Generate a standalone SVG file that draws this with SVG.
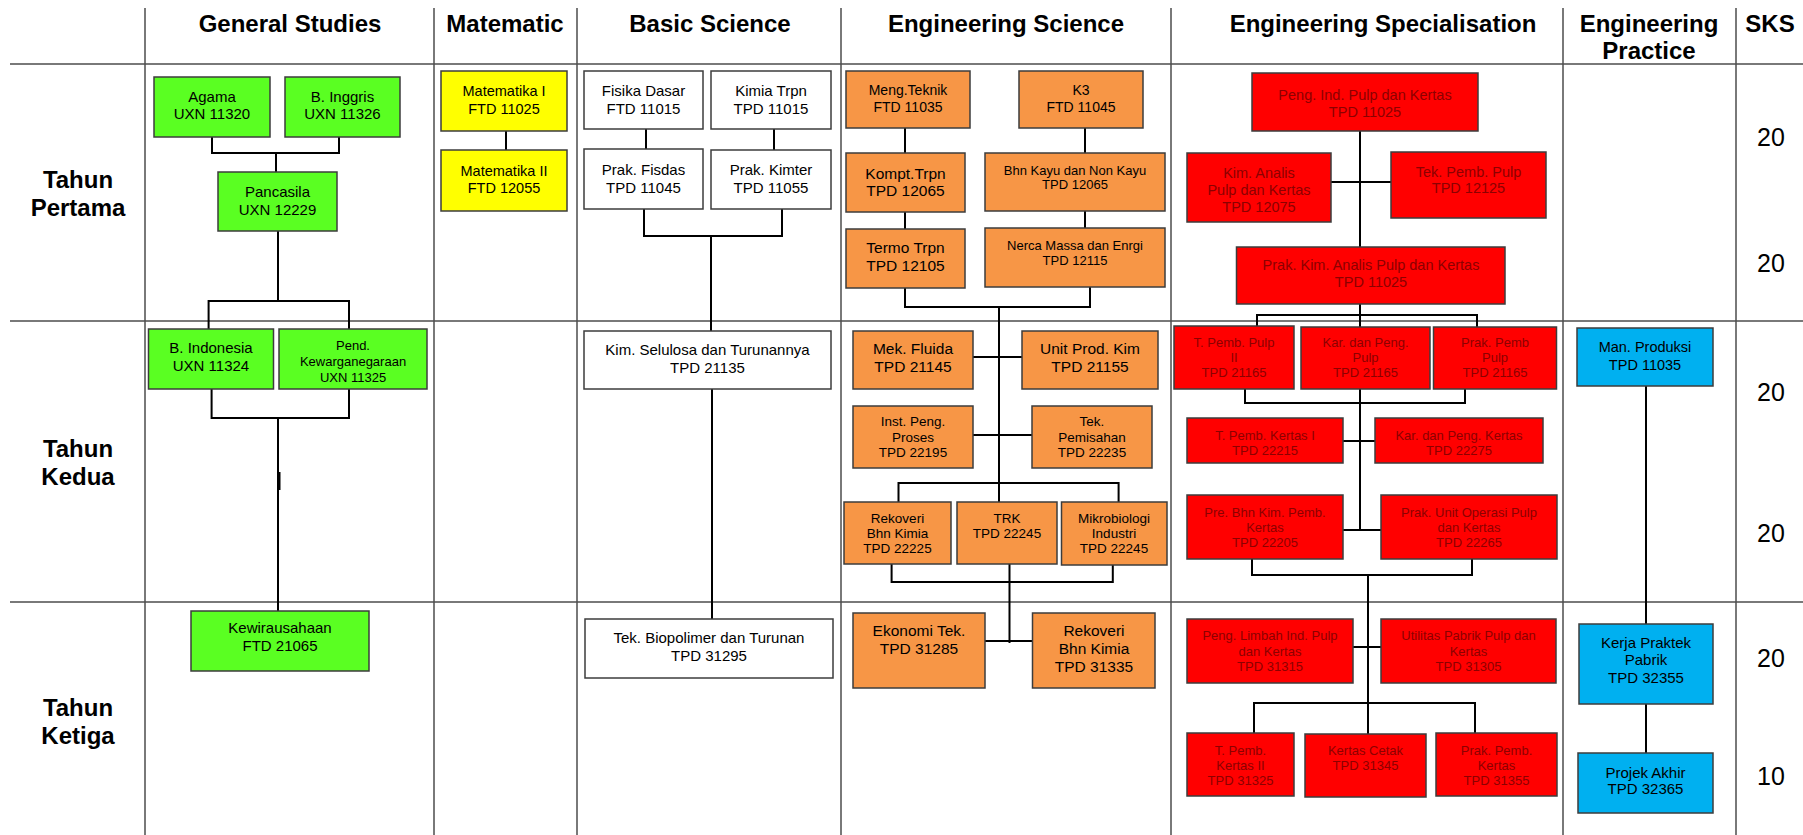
<svg xmlns="http://www.w3.org/2000/svg" width="1803" height="835" viewBox="0 0 1803 835">
<style>
.bg{fill:#fff}
.grid{stroke:#4d4d4d;stroke-width:1.5;fill:none}
.hdr{font-family:"Liberation Sans",Arial,sans-serif;font-weight:bold;font-size:24px;text-anchor:middle;fill:#000}
.sks{font-family:"Liberation Sans",Arial,sans-serif;font-size:25px;text-anchor:middle;fill:#000}
.box{stroke:#3c3c3c;stroke-width:1.5}
.g{fill:#5aff22}.y{fill:#ffff00}.w{fill:#ffffff}.o{fill:#f79646}.r{fill:#ff0000}.b{fill:#00b0f0}
.t{font-family:"Liberation Sans",Arial,sans-serif;text-anchor:middle;fill:#000}
.rt{fill:#8c0000}
.conn{stroke:#000;stroke-width:2;fill:none}
</style>
<rect class="bg" x="0" y="0" width="1803" height="835"/>
<g id="grid">
<path class="grid" d="M10,64H1803M10,321H1803M10,602H1803"/>
<path class="grid" d="M145,8V835M434,8V835M577,8V835M841,8V835M1171,8V835M1563,8V835M1736,8V835"/>
</g>
<g id="headers">
<text class="hdr" x="290" y="32">General Studies</text>
<text class="hdr" x="505" y="32">Matematic</text>
<text class="hdr" x="710" y="32">Basic Science</text>
<text class="hdr" x="1006" y="32">Engineering Science</text>
<text class="hdr" x="1383" y="32">Engineering Specialisation</text>
<text class="hdr" x="1649" y="32">Engineering</text>
<text class="hdr" x="1649" y="59">Practice</text>
<text class="hdr" x="1770" y="32">SKS</text>
<text class="hdr" x="78" y="188">Tahun</text>
<text class="hdr" x="78" y="216">Pertama</text>
<text class="hdr" x="78" y="457">Tahun</text>
<text class="hdr" x="78" y="485">Kedua</text>
<text class="hdr" x="78" y="716">Tahun</text>
<text class="hdr" x="78" y="744">Ketiga</text>
</g>
<g id="sks">
<text class="sks" x="1771" y="146">20</text>
<text class="sks" x="1771" y="272">20</text>
<text class="sks" x="1771" y="401">20</text>
<text class="sks" x="1771" y="542">20</text>
<text class="sks" x="1771" y="667">20</text>
<text class="sks" x="1771" y="785">10</text>
</g>
<g id="connectors">
<path class="conn" d="M212,137V153H339V137M276,153V172"/>
<path class="conn" d="M278,231V301M208.6,329V301H349V329"/>
<path class="conn" d="M211.6,389V418H349V389M278,418V611"/>
<path class="conn" d="M279,472V490" style="stroke-width:3"/>
<path class="conn" d="M506,131V150"/>
<path class="conn" d="M646,129V149M774,129V150"/>
<path class="conn" d="M644,209V236H782V209M711,236V331"/>
<path class="conn" d="M712,389V619"/>
<path class="conn" d="M905,128V153M1085,128V153M905,212V229M1085,211V228"/>
<path class="conn" d="M905,288V307H1090V287M999,307V502"/>
<path class="conn" d="M973,357H1022M973,435H1032"/>
<path class="conn" d="M898.5,502V483H1118.6V502"/>
<path class="conn" d="M891.6,564V582H1112.8V565M1009.5,564V643M984.6,641H1032.5"/>
<path class="conn" d="M1360,131V247M1331,182H1391"/>
<path class="conn" d="M1360,304V327M1257,326V315H1477V327"/>
<path class="conn" d="M1245,389V403H1465V389M1360,389V530"/>
<path class="conn" d="M1343,441H1375M1343,530H1381"/>
<path class="conn" d="M1252,559V575H1472V559M1368,575V734M1353,647H1381"/>
<path class="conn" d="M1254,733V703H1475V733"/>
<path class="conn" d="M1646,386V624M1646,704V753"/>
</g>
<g id="agama"><rect class="box g" x="154" y="77" width="116" height="60"/><text class="t" font-size="15"><tspan x="212" y="102">Agama</tspan><tspan x="212" y="119">UXN 11320</tspan></text></g>
<g id="binggris"><rect class="box g" x="285" y="77" width="115" height="60"/><text class="t" font-size="15"><tspan x="342.5" y="102">B. Inggris</tspan><tspan x="342.5" y="119">UXN 11326</tspan></text></g>
<g id="pancasila"><rect class="box g" x="218" y="172" width="119" height="59"/><text class="t" font-size="15"><tspan x="277.5" y="197">Pancasila</tspan><tspan x="277.5" y="215">UXN 12229</tspan></text></g>
<g id="bindonesia"><rect class="box g" x="148.5" y="329" width="125" height="60"/><text class="t" font-size="15"><tspan x="211" y="353">B. Indonesia</tspan><tspan x="211" y="371">UXN 11324</tspan></text></g>
<g id="pend"><rect class="box g" x="279" y="329" width="148" height="60"/><text class="t" font-size="13"><tspan x="353" y="350">Pend.</tspan><tspan x="353" y="366">Kewarganegaraan</tspan><tspan x="353" y="382">UXN 11325</tspan></text></g>
<g id="kewirausahaan"><rect class="box g" x="191" y="611" width="178" height="60"/><text class="t" font-size="15"><tspan x="280" y="633">Kewirausahaan</tspan><tspan x="280" y="651">FTD 21065</tspan></text></g>
<g id="matematika1"><rect class="box y" x="441" y="71" width="126" height="60"/><text class="t" font-size="14.5"><tspan x="504" y="96">Matematika I</tspan><tspan x="504" y="114">FTD 11025</tspan></text></g>
<g id="matematika2"><rect class="box y" x="441" y="150" width="126" height="61"/><text class="t" font-size="14.5"><tspan x="504" y="176">Matematika II</tspan><tspan x="504" y="193">FTD 12055</tspan></text></g>
<g id="fisikadasar"><rect class="box w" x="584" y="71" width="119" height="58"/><text class="t" font-size="15"><tspan x="643.5" y="96">Fisika Dasar</tspan><tspan x="643.5" y="114">FTD 11015</tspan></text></g>
<g id="kimiatrpn"><rect class="box w" x="711" y="71" width="120" height="58"/><text class="t" font-size="15"><tspan x="771" y="96">Kimia Trpn</tspan><tspan x="771" y="114">TPD 11015</tspan></text></g>
<g id="prakfisdas"><rect class="box w" x="584" y="149" width="119" height="60"/><text class="t" font-size="15"><tspan x="643.5" y="175">Prak. Fisdas</tspan><tspan x="643.5" y="193">TPD 11045</tspan></text></g>
<g id="prakkimter"><rect class="box w" x="711" y="150" width="120" height="59"/><text class="t" font-size="15"><tspan x="771" y="175">Prak. Kimter</tspan><tspan x="771" y="193">TPD 11055</tspan></text></g>
<g id="kimselulosa"><rect class="box w" x="584" y="331" width="247" height="58"/><text class="t" font-size="15"><tspan x="707.5" y="355">Kim. Selulosa dan Turunannya</tspan><tspan x="707.5" y="373">TPD 21135</tspan></text></g>
<g id="biopolimer"><rect class="box w" x="585" y="619" width="248" height="59"/><text class="t" font-size="15"><tspan x="709" y="643">Tek. Biopolimer dan Turunan</tspan><tspan x="709" y="661">TPD 31295</tspan></text></g>
<g id="mengteknik"><rect class="box o" x="846" y="71" width="124" height="57"/><text class="t" font-size="14"><tspan x="908" y="95">Meng.Teknik</tspan><tspan x="908" y="112">FTD 11035</tspan></text></g>
<g id="k3"><rect class="box o" x="1019" y="71" width="124" height="57"/><text class="t" font-size="14"><tspan x="1081" y="95">K3</tspan><tspan x="1081" y="112">FTD 11045</tspan></text></g>
<g id="komptrpn"><rect class="box o" x="846" y="153" width="119" height="59"/><text class="t" font-size="15.5"><tspan x="905.5" y="179">Kompt.Trpn</tspan><tspan x="905.5" y="196">TPD 12065</tspan></text></g>
<g id="bhnkayu"><rect class="box o" x="985" y="153" width="180" height="58"/><text class="t" font-size="13"><tspan x="1075" y="175">Bhn Kayu dan Non Kayu</tspan><tspan x="1075" y="189">TPD 12065</tspan></text></g>
<g id="termotrpn"><rect class="box o" x="846" y="229" width="119" height="59"/><text class="t" font-size="15.5"><tspan x="905.5" y="253">Termo Trpn</tspan><tspan x="905.5" y="271">TPD 12105</tspan></text></g>
<g id="nerca"><rect class="box o" x="985" y="228" width="180" height="59"/><text class="t" font-size="13"><tspan x="1075" y="250">Nerca Massa dan Enrgi</tspan><tspan x="1075" y="265">TPD 12115</tspan></text></g>
<g id="mekfluida"><rect class="box o" x="853" y="331" width="120" height="58"/><text class="t" font-size="15.5"><tspan x="913" y="354">Mek. Fluida</tspan><tspan x="913" y="372">TPD 21145</tspan></text></g>
<g id="unitprodkim"><rect class="box o" x="1022" y="331" width="136" height="58"/><text class="t" font-size="15.5"><tspan x="1090" y="354">Unit Prod. Kim</tspan><tspan x="1090" y="372">TPD 21155</tspan></text></g>
<g id="instpeng"><rect class="box o" x="853" y="406" width="120" height="62"/><text class="t" font-size="13.5"><tspan x="913" y="426">Inst. Peng.</tspan><tspan x="913" y="441.5">Proses</tspan><tspan x="913" y="457">TPD 22195</tspan></text></g>
<g id="tekpemisahan"><rect class="box o" x="1032" y="406" width="120" height="62"/><text class="t" font-size="13.5"><tspan x="1092" y="426">Tek.</tspan><tspan x="1092" y="441.5">Pemisahan</tspan><tspan x="1092" y="457">TPD 22235</tspan></text></g>
<g id="rekoveri1"><rect class="box o" x="844" y="502" width="107" height="62"/><text class="t" font-size="13.5"><tspan x="897.5" y="523">Rekoveri</tspan><tspan x="897.5" y="538">Bhn Kimia</tspan><tspan x="897.5" y="553">TPD 22225</tspan></text></g>
<g id="trk"><rect class="box o" x="957" y="502" width="100" height="62"/><text class="t" font-size="13.5"><tspan x="1007" y="523">TRK</tspan><tspan x="1007" y="538">TPD 22245</tspan></text></g>
<g id="mikrobiologi"><rect class="box o" x="1061.5" y="502" width="105.5" height="63"/><text class="t" font-size="13.5"><tspan x="1114" y="523">Mikrobiologi</tspan><tspan x="1114" y="538">Industri</tspan><tspan x="1114" y="553">TPD 22245</tspan></text></g>
<g id="ekonomitek"><rect class="box o" x="853" y="613" width="132" height="75"/><text class="t" font-size="15.5"><tspan x="919" y="636">Ekonomi Tek.</tspan><tspan x="919" y="654">TPD 31285</tspan></text></g>
<g id="rekoveri2"><rect class="box o" x="1032.5" y="613" width="122.5" height="75"/><text class="t" font-size="15.5"><tspan x="1094" y="636">Rekoveri</tspan><tspan x="1094" y="654">Bhn Kimia</tspan><tspan x="1094" y="672">TPD 31335</tspan></text></g>
<g id="pengind"><rect class="box r" x="1252" y="73" width="226" height="58"/><text class="t rt" font-size="14.5"><tspan x="1365" y="100">Peng. Ind. Pulp dan Kertas</tspan><tspan x="1365" y="117">TPD 11025</tspan></text></g>
<g id="kimanalis"><rect class="box r" x="1187" y="153" width="144" height="69"/><text class="t rt" font-size="14.5"><tspan x="1259" y="178">Kim. Analis</tspan><tspan x="1259" y="195">Pulp dan Kertas</tspan><tspan x="1259" y="212">TPD 12075</tspan></text></g>
<g id="tekpembpulp"><rect class="box r" x="1391" y="152" width="155" height="66"/><text class="t rt" font-size="14.5"><tspan x="1468.5" y="177">Tek. Pemb. Pulp</tspan><tspan x="1468.5" y="193">TPD 12125</tspan></text></g>
<g id="prakkimanalis"><rect class="box r" x="1236.5" y="247" width="268.5" height="57"/><text class="t rt" font-size="14.5"><tspan x="1371" y="270">Prak. Kim. Analis Pulp dan Kertas</tspan><tspan x="1371" y="287">TPD 11025</tspan></text></g>
<g id="tpembpulp2"><rect class="box r" x="1174" y="326" width="120" height="63"/><text class="t rt" font-size="13"><tspan x="1234" y="347">T. Pemb. Pulp</tspan><tspan x="1234" y="362">II</tspan><tspan x="1234" y="377">TPD 21165</tspan></text></g>
<g id="karpengpulp"><rect class="box r" x="1301" y="327" width="129" height="62"/><text class="t rt" font-size="13"><tspan x="1365.5" y="347">Kar. dan Peng.</tspan><tspan x="1365.5" y="362">Pulp</tspan><tspan x="1365.5" y="377">TPD 21165</tspan></text></g>
<g id="prakpembpulp"><rect class="box r" x="1433.5" y="327" width="123" height="62"/><text class="t rt" font-size="13"><tspan x="1495" y="347">Prak. Pemb</tspan><tspan x="1495" y="362">Pulp</tspan><tspan x="1495" y="377">TPD 21165</tspan></text></g>
<g id="tpembkertas1"><rect class="box r" x="1187" y="418" width="156" height="45"/><text class="t rt" font-size="13"><tspan x="1265" y="440">T. Pemb. Kertas I</tspan><tspan x="1265" y="455">TPD 22215</tspan></text></g>
<g id="karpengkertas"><rect class="box r" x="1375" y="418" width="168" height="45"/><text class="t rt" font-size="13"><tspan x="1459" y="440">Kar. dan Peng. Kertas</tspan><tspan x="1459" y="455">TPD 22275</tspan></text></g>
<g id="prebhnkim"><rect class="box r" x="1187" y="495" width="156" height="64"/><text class="t rt" font-size="13"><tspan x="1265" y="517">Pre. Bhn Kim. Pemb.</tspan><tspan x="1265" y="532">Kertas</tspan><tspan x="1265" y="547">TPD 22205</tspan></text></g>
<g id="prakunitoperasi"><rect class="box r" x="1381" y="495" width="176" height="64"/><text class="t rt" font-size="13"><tspan x="1469" y="517">Prak. Unit Operasi Pulp</tspan><tspan x="1469" y="532">dan Kertas</tspan><tspan x="1469" y="547">TPD 22265</tspan></text></g>
<g id="penglimbah"><rect class="box r" x="1187" y="619" width="166" height="64"/><text class="t rt" font-size="13"><tspan x="1270" y="640">Peng. Limbah Ind. Pulp</tspan><tspan x="1270" y="655.5">dan Kertas</tspan><tspan x="1270" y="671">TPD 31315</tspan></text></g>
<g id="utilitas"><rect class="box r" x="1381" y="619" width="175" height="64"/><text class="t rt" font-size="13"><tspan x="1468.5" y="640">Utilitas Pabrik Pulp dan</tspan><tspan x="1468.5" y="655.5">Kertas</tspan><tspan x="1468.5" y="671">TPD 31305</tspan></text></g>
<g id="tpembkertas2"><rect class="box r" x="1187" y="733" width="107" height="63"/><text class="t rt" font-size="13"><tspan x="1240.5" y="755">T. Pemb.</tspan><tspan x="1240.5" y="770">Kertas II</tspan><tspan x="1240.5" y="785">TPD 31325</tspan></text></g>
<g id="kertascetak"><rect class="box r" x="1305" y="734" width="121" height="63"/><text class="t rt" font-size="13"><tspan x="1365.5" y="755">Kertas Cetak</tspan><tspan x="1365.5" y="770">TPD 31345</tspan></text></g>
<g id="prakpembkertas"><rect class="box r" x="1436" y="733" width="121" height="63"/><text class="t rt" font-size="13"><tspan x="1496.5" y="755">Prak. Pemb.</tspan><tspan x="1496.5" y="770">Kertas</tspan><tspan x="1496.5" y="785">TPD 31355</tspan></text></g>
<g id="manproduksi"><rect class="box b" x="1577" y="328" width="136" height="58"/><text class="t" font-size="14.5"><tspan x="1645" y="352">Man. Produksi</tspan><tspan x="1645" y="370">TPD 11035</tspan></text></g>
<g id="kerjapraktek"><rect class="box b" x="1579" y="624" width="134" height="80"/><text class="t" font-size="15"><tspan x="1646" y="648">Kerja Praktek</tspan><tspan x="1646" y="665">Pabrik</tspan><tspan x="1646" y="683">TPD 32355</tspan></text></g>
<g id="projekakhir"><rect class="box b" x="1578" y="753" width="135" height="60"/><text class="t" font-size="15"><tspan x="1645.5" y="778">Projek Akhir</tspan><tspan x="1645.5" y="794">TPD 32365</tspan></text></g>
</svg>
